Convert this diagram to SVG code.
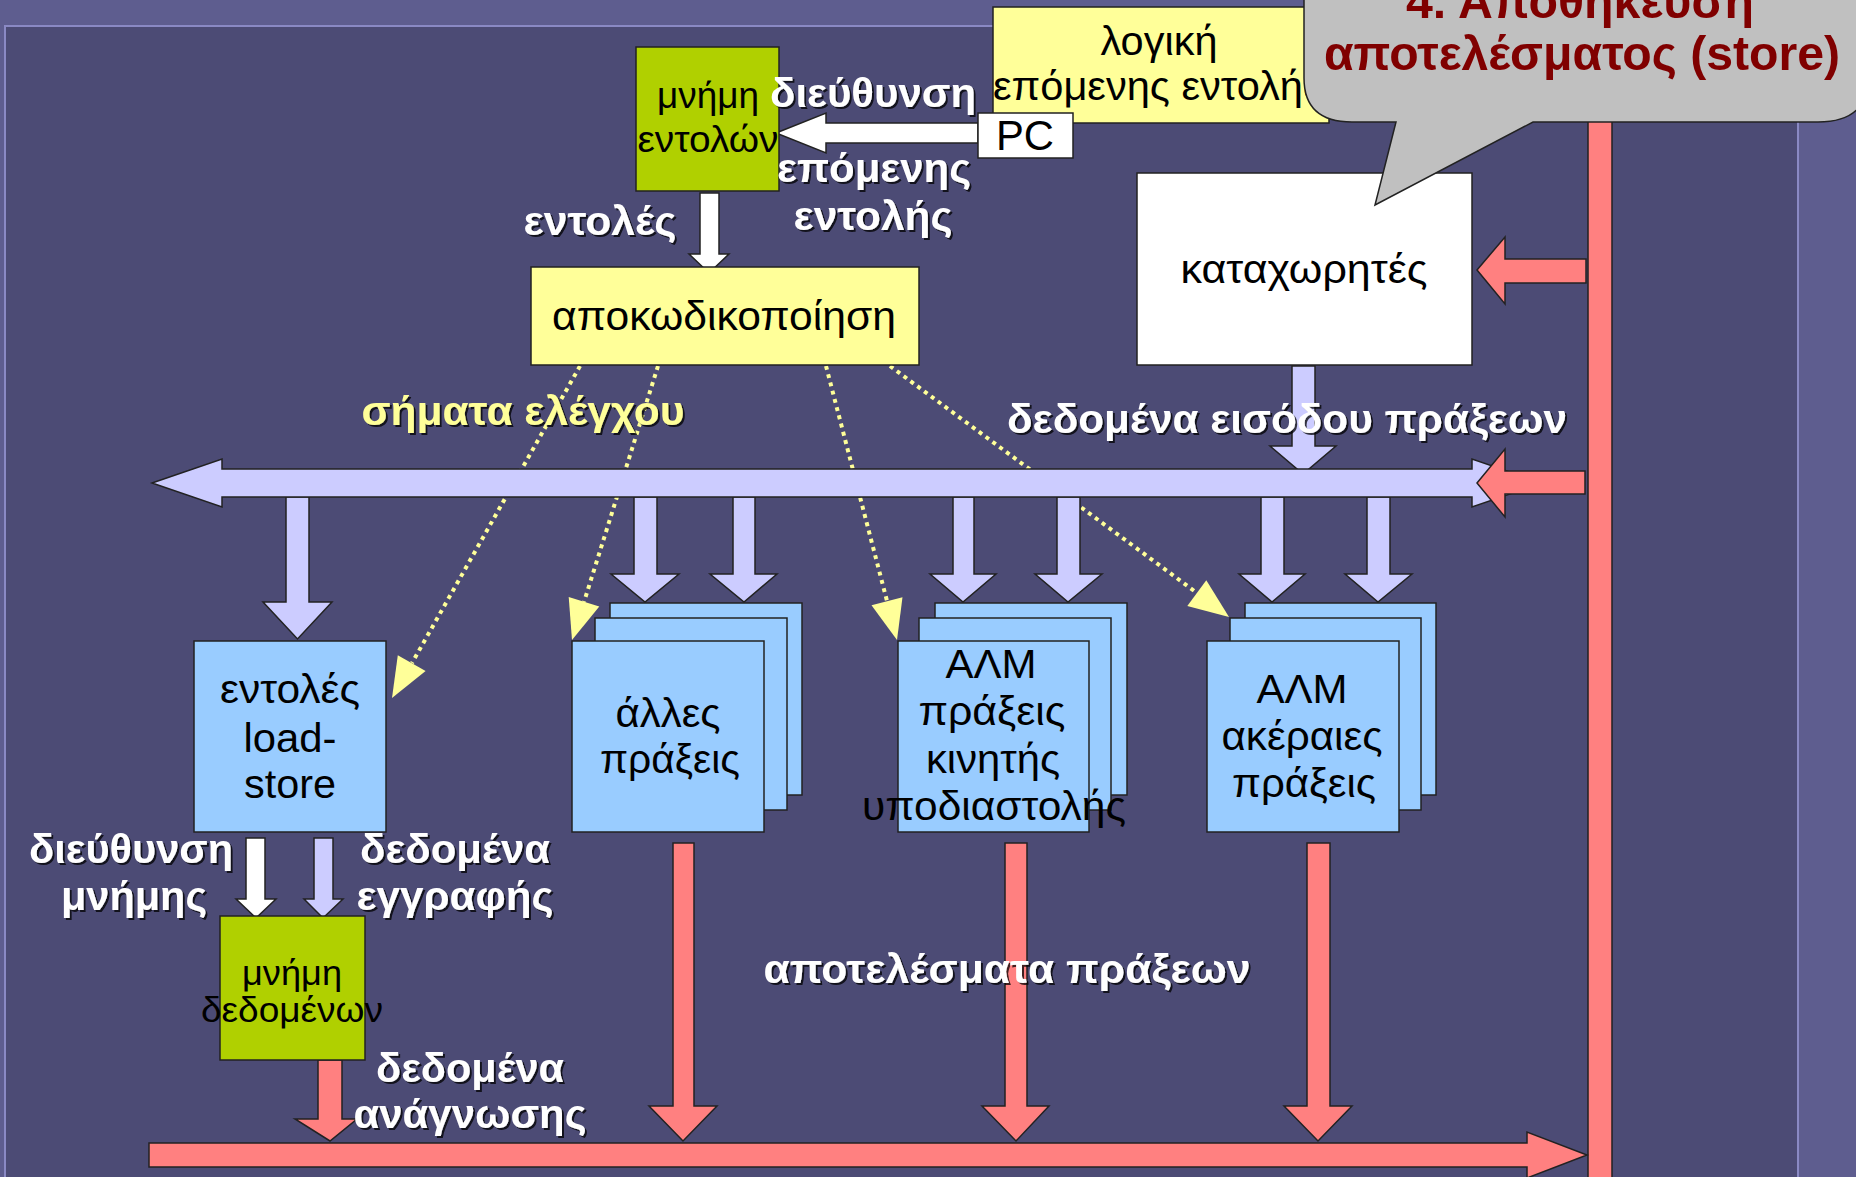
<svg xmlns="http://www.w3.org/2000/svg" width="1856" height="1177" viewBox="0 0 1856 1177">
<defs>
<style>
.bx{stroke:#222;stroke-width:1.5}
.t{font-family:"Liberation Sans",Arial,sans-serif;font-size:40px;fill:#000;text-anchor:middle}
.lb{font-family:"Liberation Sans",Arial,sans-serif;font-size:40px;font-weight:bold;fill:#fff;text-anchor:middle;filter:url(#sh)}
.lav{fill:#CCCCFF;stroke:#222;stroke-width:1.5}
.red{fill:#FF8080;stroke:#222;stroke-width:1.5}
.wht{fill:#fff;stroke:#222;stroke-width:1.5}
.dot{stroke:#FFFF99;stroke-width:4;stroke-dasharray:4 4.5;fill:none}
.ah{fill:#FFFF99}
.blue{fill:#99CCFF}
.grn{fill:#B0D000}
.yel{fill:#FFFF99}
</style>
<filter id="sh" x="-10%" y="-20%" width="130%" height="150%">
<feDropShadow dx="2" dy="2" stdDeviation="0.6" flood-color="#000" flood-opacity="0.75"/>
</filter>
</defs>

<rect width="1856" height="1177" fill="#5E5D8F"/>
<rect x="5" y="26" width="1793" height="1170" fill="#4C4B75" stroke="#8A89C4" stroke-width="2"/>

<g id="connectors">
  <line class="dot" x1="580" y1="366" x2="412" y2="663"/>
  <polygon class="ah" points="392,698 425.6,671.1 397.8,655.3"/>
  <line class="dot" x1="658" y1="366" x2="584" y2="602"/>
  <polygon class="ah" points="572,640 599.3,606.6 568.7,597"/>
  <line class="dot" x1="826" y1="366" x2="887" y2="601"/>
  <polygon class="ah" points="897,640 902.5,597.3 871.5,605.3"/>
  <line class="dot" x1="890" y1="366" x2="1197" y2="593"/>
  <polygon class="ah" points="1229,617 1206.3,580.3 1187.3,606.1"/>

  <polygon class="wht" points="776,133 826,113 826,123 978,123 978,143 826,143 826,153"/>
  <polygon class="wht" points="700,193 719,193 719,254 729,254 709,273 689,254 700,254"/>

  <polygon class="lav" points="1292,366 1315,366 1315,446 1336,446 1303,474 1270,446 1292,446"/>
  <polygon class="lav" points="286,497 309,497 309,602 332,602 297.5,639 263,602 286,602"/>
  <polygon class="lav" points="634,497 657,497 657,574 679,574 645,602 611,574 634,574"/>
  <polygon class="lav" points="733,497 755,497 755,574 777,574 744,602 710,574 733,574"/>
  <polygon class="lav" points="953,497 974,497 974,574 996,574 963,602 930,574 953,574"/>
  <polygon class="lav" points="1057,497 1080,497 1080,574 1102,574 1068,602 1035,574 1057,574"/>
  <polygon class="lav" points="1261,497 1284,497 1284,574 1305,574 1272,602 1239,574 1261,574"/>
  <polygon class="lav" points="1367,497 1390,497 1390,574 1412,574 1378,602 1345,574 1367,574"/>

  <polygon class="lav" points="152,483 222,459 222,469 1472,469 1472,459 1542,483 1472,507 1472,497 222,497 222,507"/>

  <rect class="red" x="1588" y="100" width="24" height="1090"/>
  <polygon class="red" points="1477,483 1505,449 1505,471 1585,471 1585,494 1505,494 1505,517"/>
  <polygon class="red" points="1477,270 1505,237 1505,259 1586,259 1586,283 1505,283 1505,304"/>

  <polygon class="red" points="673,843 694,843 694,1106 717,1106 683,1141 649,1106 673,1106"/>
  <polygon class="red" points="1005,843 1027,843 1027,1106 1049,1106 1016,1141 982,1106 1005,1106"/>
  <polygon class="red" points="1307,843 1330,843 1330,1106 1352,1106 1318,1141 1284,1106 1307,1106"/>
  <polygon class="red" points="318,1060 342,1060 342,1119 357,1119 330,1141 295,1119 318,1119"/>
  <polygon class="red" points="149,1143 1527,1143 1527,1132 1587,1155 1527,1178 1527,1167 149,1167"/>

  <polygon class="wht" points="246,838 265,838 265,899 276,899 256,918 236,899 246,899"/>
  <polygon class="lav" points="314,838 333,838 333,899 343,899 323,918 304,899 314,899"/>
</g>

<g id="instr-mem">
  <rect class="bx grn" x="636" y="47" width="143" height="144"/>
  <text class="t" style="font-size:36px" x="708" y="108" textLength="102" lengthAdjust="spacingAndGlyphs">μνήμη</text>
  <text class="t" style="font-size:36px" x="708" y="152" textLength="141" lengthAdjust="spacingAndGlyphs">εντολών</text>
</g>

<g id="next-logic">
  <rect class="bx yel" x="993" y="7" width="336" height="116"/>
  <text class="t" x="1159" y="55" textLength="117" lengthAdjust="spacingAndGlyphs">λογική</text>
  <text class="t" x="1158" y="100" textLength="330" lengthAdjust="spacingAndGlyphs">επόμενης εντολής</text>
</g>

<g id="pc">
  <rect class="bx" fill="#fff" x="978" y="113" width="95" height="45"/>
  <text class="t" style="font-size:42px" x="1025" y="150" textLength="58" lengthAdjust="spacingAndGlyphs">PC</text>
</g>

<g id="decode">
  <rect class="bx yel" x="531" y="267" width="388" height="98"/>
  <text class="t" x="724" y="330" textLength="344" lengthAdjust="spacingAndGlyphs">αποκωδικοποίηση</text>
</g>

<g id="registers">
  <rect class="bx" fill="#fff" x="1137" y="173" width="335" height="192"/>
  <text class="t" x="1304" y="283" textLength="247" lengthAdjust="spacingAndGlyphs">καταχωρητές</text>
</g>

<g id="load-store">
  <rect class="bx blue" x="194" y="641" width="192" height="191"/>
  <text class="t" x="290" y="703" textLength="140" lengthAdjust="spacingAndGlyphs">εντολές</text>
  <text class="t" x="290" y="752" textLength="93" lengthAdjust="spacingAndGlyphs">load-</text>
  <text class="t" x="290" y="798" textLength="92" lengthAdjust="spacingAndGlyphs">store</text>
</g>

<g id="other-ops">
  <rect class="bx blue" x="610" y="603" width="192" height="192"/>
  <rect class="bx blue" x="595" y="618" width="192" height="192"/>
  <rect class="bx blue" x="572" y="641" width="192" height="191"/>
  <text class="t" x="668" y="727" textLength="105" lengthAdjust="spacingAndGlyphs">άλλες</text>
  <text class="t" x="670" y="773" textLength="140" lengthAdjust="spacingAndGlyphs">πράξεις</text>
</g>

<g id="alu-float">
  <rect class="bx blue" x="935" y="603" width="192" height="192"/>
  <rect class="bx blue" x="919" y="618" width="192" height="192"/>
  <rect class="bx blue" x="898" y="641" width="191" height="191"/>
  <text class="t" x="991" y="678" textLength="91" lengthAdjust="spacingAndGlyphs">ΑΛΜ</text>
  <text class="t" x="992" y="725" textLength="147" lengthAdjust="spacingAndGlyphs">πράξεις</text>
  <text class="t" x="993" y="773" textLength="134" lengthAdjust="spacingAndGlyphs">κινητής</text>
  <text class="t" x="994" y="820" textLength="264" lengthAdjust="spacingAndGlyphs">υποδιαστολής</text>
</g>

<g id="alu-int">
  <rect class="bx blue" x="1245" y="603" width="191" height="192"/>
  <rect class="bx blue" x="1230" y="618" width="191" height="192"/>
  <rect class="bx blue" x="1207" y="641" width="192" height="191"/>
  <text class="t" x="1302" y="703" textLength="91" lengthAdjust="spacingAndGlyphs">ΑΛΜ</text>
  <text class="t" x="1302" y="750" textLength="161" lengthAdjust="spacingAndGlyphs">ακέραιες</text>
  <text class="t" x="1304" y="797" textLength="144" lengthAdjust="spacingAndGlyphs">πράξεις</text>
</g>

<g id="data-mem">
  <rect class="bx grn" x="220" y="916" width="145" height="144"/>
  <text class="t" style="font-size:35px" x="292" y="985" textLength="100" lengthAdjust="spacingAndGlyphs">μνήμη</text>
  <text class="t" style="font-size:35px" x="292" y="1022" textLength="182" lengthAdjust="spacingAndGlyphs">δεδομένων</text>
</g>

<g id="labels">
  <text class="lb" x="873" y="107" textLength="206" lengthAdjust="spacingAndGlyphs">διεύθυνση</text>
  <text class="lb" x="874" y="182" textLength="194" lengthAdjust="spacingAndGlyphs">επόμενης</text>
  <text class="lb" x="873" y="230" textLength="159" lengthAdjust="spacingAndGlyphs">εντολής</text>
  <text class="lb" x="600" y="235" textLength="153" lengthAdjust="spacingAndGlyphs">εντολές</text>
  <text class="lb" style="fill:#FFFF99" x="523" y="425" textLength="323" lengthAdjust="spacingAndGlyphs">σήματα ελέγχου</text>
  <text class="lb" x="1287" y="433" textLength="560" lengthAdjust="spacingAndGlyphs">δεδομένα εισόδου πράξεων</text>
  <text class="lb" x="131" y="863" textLength="204" lengthAdjust="spacingAndGlyphs">διεύθυνση</text>
  <text class="lb" x="134" y="910" textLength="146" lengthAdjust="spacingAndGlyphs">μνήμης</text>
  <text class="lb" x="455" y="863" textLength="190" lengthAdjust="spacingAndGlyphs">δεδομένα</text>
  <text class="lb" x="455" y="910" textLength="197" lengthAdjust="spacingAndGlyphs">εγγραφής</text>
  <text class="lb" x="470" y="1082" textLength="188" lengthAdjust="spacingAndGlyphs">δεδομένα</text>
  <text class="lb" x="470" y="1128" textLength="233" lengthAdjust="spacingAndGlyphs">ανάγνωσης</text>
  <text class="lb" x="1007" y="983" textLength="487" lengthAdjust="spacingAndGlyphs">αποτελέσματα πράξεων</text>
</g>

<g id="callout">
  <path d="M1304,-40 L1304,78 Q1304,122 1352,122 L1396,122 L1375,205 L1533,122 L1818,122 Q1868,122 1868,78 L1868,-40 Z" fill="#C0C0C0" stroke="#222" stroke-width="1.5"/>
  <text x="1580" y="18" textLength="348" lengthAdjust="spacingAndGlyphs" style="font-family:'Liberation Sans',Arial,sans-serif;font-size:48px;font-weight:bold;fill:#800000;text-anchor:middle">4. Αποθήκευση</text>
  <text x="1582" y="70" textLength="516" lengthAdjust="spacingAndGlyphs" style="font-family:'Liberation Sans',Arial,sans-serif;font-size:48px;font-weight:bold;fill:#800000;text-anchor:middle">αποτελέσματος (store)</text>
</g>
</svg>
